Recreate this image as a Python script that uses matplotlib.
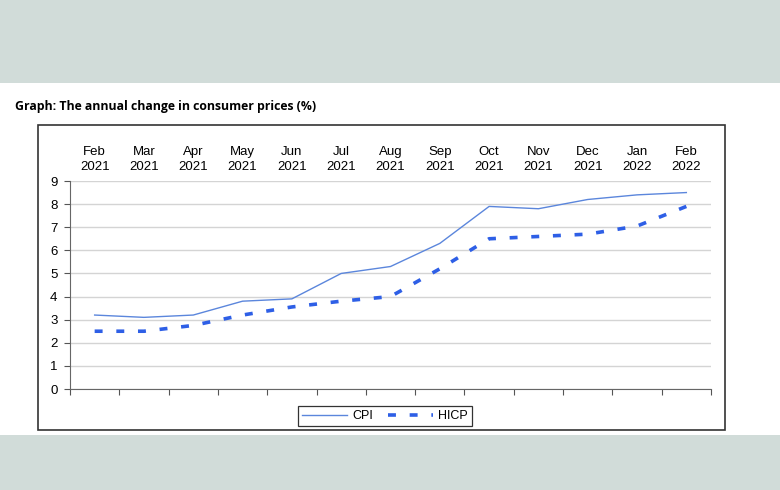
import matplotlib.pyplot as plt
from matplotlib.patches import Rectangle

# Month labels and the two inflation series (annual change, %)
months = ['Feb\n2021', 'Mar\n2021', 'Apr\n2021', 'May\n2021', 'Jun\n2021', 'Jul\n2021',
          'Aug\n2021', 'Sep\n2021', 'Oct\n2021', 'Nov\n2021', 'Dec\n2021', 'Jan\n2022', 'Feb\n2022']
cpi = [3.2, 3.1, 3.2, 3.8, 3.9, 5.0, 5.3, 6.3, 7.9, 7.8, 8.2, 8.4, 8.5]
hicp = [2.5, 2.5, 2.75, 3.2, 3.55, 3.8, 4.0, 5.2, 6.5, 6.6, 6.7, 7.05, 7.9]
y_ticks = [0, 1, 2, 3, 4, 5, 6, 7, 8, 9]


def main():
    plt.rcParams['font.family'] = ['Liberation Sans', 'DejaVu Sans']
    fig = plt.figure(figsize=(7.8, 4.9), dpi=100)

    # Background bands top and bottom
    band = '#d1dcd9'
    fig.patches.append(Rectangle((0, 1 - 83 / 490), 1, 83 / 490, transform=fig.transFigure,
                                 facecolor=band, edgecolor='none', zorder=0))
    fig.patches.append(Rectangle((0, 0), 1, 55 / 490, transform=fig.transFigure,
                                 facecolor=band, edgecolor='none', zorder=0))

    # Outer chart frame
    fig.patches.append(Rectangle((38 / 780, 1 - 430 / 490), 687 / 780, 305 / 490,
                                 transform=fig.transFigure, facecolor='none',
                                 edgecolor='#333333', linewidth=1.2, zorder=1))

    fig.text(15 / 780, 1 - 106 / 490, 'Graph: The annual change in consumer prices (%)',
             fontsize=8.8, fontweight='bold', family=['Open Sans', 'DejaVu Sans'],
             va='center', ha='left')

    ax = fig.add_axes([70 / 780, 1 - 389 / 490, 641 / 780, 208 / 490])
    x = list(range(len(months)))

    ax.plot(x, cpi, color='#5b86dc', linewidth=1.0, label='CPI', zorder=3)
    ax.plot(x, hicp, color='#2e5fe6', linewidth=2.6, dashes=(2.2, 3.8), label='HICP', zorder=3)

    ax.set_xlim(-0.5, len(months) - 0.5)
    ax.set_ylim(0, 9)
    ax.set_yticks(y_ticks)
    ax.yaxis.grid(True, color='#d4d4d4', linewidth=1.0)
    ax.set_axisbelow(True)

    # Ticks between categories at the bottom, labels at the top
    ax.set_xticks([i - 0.5 for i in range(len(months) + 1)])
    ax.set_xticklabels([])
    ax.set_xticks(x, minor=True)
    ax.set_xticklabels(months, minor=True, linespacing=1.35)
    ax.tick_params(axis='x', which='major', direction='out', length=4, color='#555555')
    ax.tick_params(axis='x', which='minor', length=0, labeltop=True, labelbottom=False,
                   labelsize=9.5, pad=6)
    ax.tick_params(axis='y', direction='out', length=4, color='#555555', labelsize=9.5, pad=5)

    for side in ['top', 'right']:
        ax.spines[side].set_visible(False)
    for side in ['left', 'bottom']:
        ax.spines[side].set_color('#666666')

    leg = fig.legend(loc='center', bbox_to_anchor=(385 / 780, 1 - 416 / 490), ncol=2,
                     fontsize=9, fancybox=False, edgecolor='#333333', framealpha=1,
                     handlelength=3.6, columnspacing=1.2, borderpad=0.35, handletextpad=0.4)
    leg.get_frame().set_linewidth(0.9)

    fig.savefig('out.png', dpi=100)


if __name__ == '__main__':
    main()
